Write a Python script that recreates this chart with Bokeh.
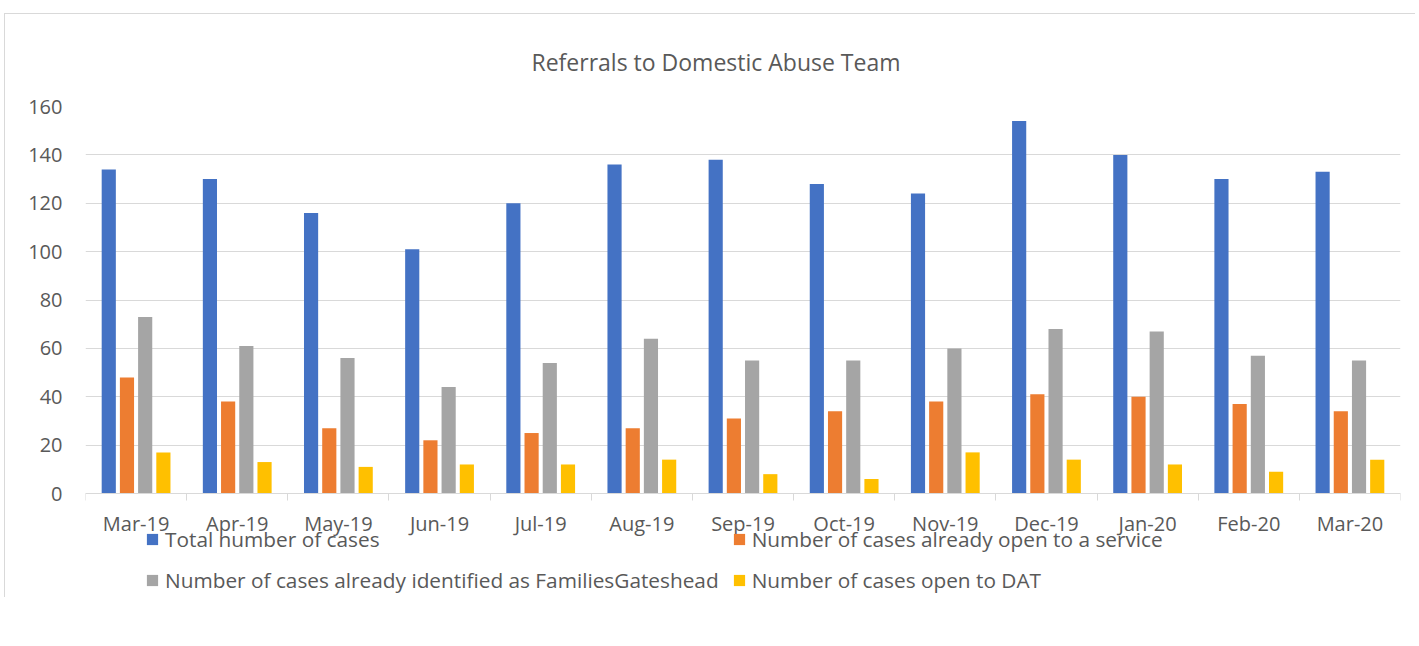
from bokeh.plotting import figure
from bokeh.models import (ColumnDataSource, Range1d, LinearAxis, FixedTicker, Legend, LegendItem, Title)
from bokeh.transform import dodge
from bokeh.embed import file_html
from bokeh.resources import INLINE

months = ["Mar-19", "Apr-19", "May-19", "Jun-19", "Jul-19", "Aug-19", "Sep-19",
          "Oct-19", "Nov-19", "Dec-19", "Jan-20", "Feb-20", "Mar-20"]
total = [134, 130, 116, 101, 120, 136, 138, 128, 124, 154, 140, 130, 133]
open_service = [48, 38, 27, 22, 25, 27, 31, 34, 38, 41, 40, 37, 34]
families = [73, 61, 56, 44, 54, 64, 55, 55, 60, 68, 67, 57, 55]
dat = [17, 13, 11, 12, 12, 14, 8, 6, 17, 14, 12, 9, 14]
y_ticks = [0, 20, 40, 60, 80, 100, 120, 140, 160]

title_text = "Referrals to Domestic Abuse Team"
names = ["Total number of cases",
         "Number of cases already open to a service",
         "Number of cases already identified as FamiliesGateshead",
         "Number of cases open to DAT"]
colors = ["#4472C4", "#ED7D31", "#A5A5A5", "#FFC000"]

FONT = "Open Sans"
TXT = "#595959"
GRID = "#D9D9D9"

n = len(months)
idx = list(range(n))
src = ColumnDataSource(dict(idx=idx, month=months, total=total, open_service=open_service,
                            families=families, dat=dat))

# plotting area: value axis 0..160 spans 387 px; the frame extends further down
# so the legend (drawn in the frame) has room below the category labels
PX_PER_UNIT = 387 / 160.0
FRAME_H = 491
below_zero_px = FRAME_H - 387
y_start = -below_zero_px / PX_PER_UNIT

p = figure(x_range=Range1d(-0.5, n - 0.5), y_range=Range1d(y_start, y_ticks[-1]),
           frame_width=1315, frame_height=FRAME_H,
           min_border_left=80, min_border_right=15, min_border_top=88, min_border_bottom=0,
           x_axis_location=None, output_backend="svg", toolbar_location=None, title=None)
p.outline_line_color = None
p.margin = (13, 0, 0, 4)
p.styles = {"border-top": "1px solid #D9D9D9", "border-left": "1px solid #D9D9D9"}
p.xgrid.visible = False

title = Title(text=title_text, align="left", offset=446, standoff=58,
              text_font=FONT, text_font_size="23px", text_font_style="normal",
              text_color=TXT)
p.add_layout(title, "above")

# y axis
p.yaxis.ticker = FixedTicker(ticks=y_ticks)
p.yaxis.axis_line_color = None
p.yaxis.major_tick_line_color = None
p.yaxis.major_tick_out = 0
p.yaxis.major_tick_in = 0
p.yaxis.minor_tick_line_color = None
p.yaxis.major_label_standoff = 23
p.yaxis.major_label_text_font = FONT
p.yaxis.major_label_text_font_size = "20px"
p.yaxis.major_label_text_color = TXT
p.ygrid.ticker = FixedTicker(ticks=y_ticks)
p.ygrid.grid_line_color = GRID
p.ygrid.grid_line_width = 1

# category axis drawn at value 0: separator ticks, then month labels
sep_axis = LinearAxis(ticker=FixedTicker(ticks=[i - 0.5 for i in range(n + 1)]),
                      major_label_overrides={i - 0.5: " " for i in range(n + 1)},
                      major_label_text_font_size="1px", major_label_text_color=None,
                      major_label_standoff=0, fixed_location=0,
                      axis_line_color=GRID, major_tick_line_color=GRID,
                      major_tick_out=7, major_tick_in=0, minor_tick_line_color=None)
p.add_layout(sep_axis, "below")
cat_axis = LinearAxis(ticker=FixedTicker(ticks=idx),
                      major_label_overrides={i: m for i, m in zip(idx, months)},
                      axis_line_color=None, major_tick_line_color=None,
                      major_tick_out=0, major_tick_in=0, fixed_location=0,
                      minor_tick_line_color=None, major_label_standoff=16,
                      major_label_text_font=FONT, major_label_text_font_size="20px",
                      major_label_text_color=TXT)
p.add_layout(cat_axis, "below")

offsets = [-0.27, -0.09, 0.09, 0.27]
fields = ["total", "open_service", "families", "dat"]
rs = []
for f, off, c in zip(fields, offsets, colors):
    r = p.vbar(x=dodge("idx", off), top=f, width=0.14, source=src,
               fill_color=c, line_color=None)
    rs.append(r)

legend = Legend(items=[LegendItem(label=nm, renderers=[r]) for nm, r in zip(names, rs)],
                orientation="horizontal", ncols=2, location=(60, 3))
legend.border_line_color = None
legend.background_fill_alpha = 0
legend.padding = 0
legend.margin = 0
legend.spacing = 13
legend.glyph_width = 14
legend.glyph_height = 14
legend.label_height = 20
legend.label_standoff = 6
legend.label_text_font = FONT
legend.label_text_font_size = "20.8px"
legend.label_text_color = TXT
p.add_layout(legend)

open("out.html", "w").write(file_html(p, INLINE))
